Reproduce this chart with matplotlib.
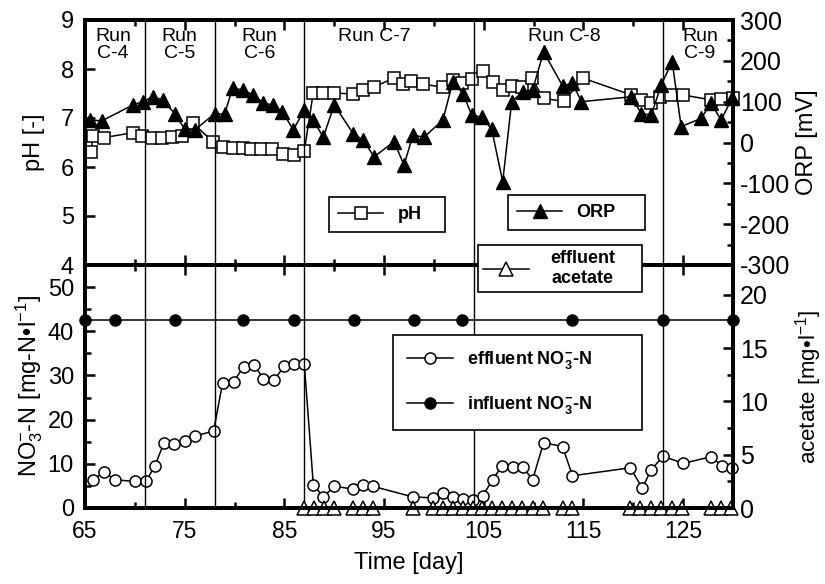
import matplotlib

matplotlib.use('Agg')

from matplotlib import pyplot as plt

plt.rcParams['font.family'] = ['Liberation Sans', 'DejaVu Sans']
plt.rcParams['mathtext.fontset'] = 'custom'
plt.rcParams['mathtext.rm'] = 'Liberation Sans'
plt.rcParams['mathtext.it'] = 'Liberation Sans:italic'
plt.rcParams['mathtext.bf'] = 'Liberation Sans:bold'
plt.rcParams['axes.unicode_minus'] = False

# pH (left axis, top panel)
ph_day = [65.6, 65.8, 66.9, 69.8, 70.7, 71.7, 72.7, 73.7, 74.7, 75.8,
          77.8, 78.8, 79.8, 80.8, 81.7, 82.7, 83.8, 84.9, 86.0, 87.0,
          87.9, 88.9, 90.0, 91.9, 92.9, 94.0, 96.0, 96.9, 97.7, 98.9,
          100.9, 101.9, 102.8, 103.8, 104.9, 105.9, 106.9, 107.8, 108.8, 109.8,
          111.0, 113.0, 115.0, 119.8, 120.8, 121.8, 122.7, 123.8, 125.0, 127.8,
          128.8, 130.0]
ph = [6.31, 6.63, 6.60, 6.70, 6.63, 6.59, 6.59, 6.62, 6.63, 6.90,
      6.52, 6.41, 6.38, 6.38, 6.36, 6.36, 6.36, 6.27, 6.24, 6.33,
      7.52, 7.51, 7.51, 7.49, 7.57, 7.64, 7.81, 7.69, 7.76, 7.69,
      7.63, 7.78, 7.72, 7.79, 7.95, 7.74, 7.58, 7.66, 7.64, 7.82,
      7.40, 7.34, 7.81, 7.47, 7.37, 7.30, 7.43, 7.47, 7.47, 7.37,
      7.38, 7.40]

# ORP (right axis, top panel)
orp_day = [65.5, 66.7, 69.8, 70.8, 71.8, 72.8, 74.0, 75.0, 76.0, 78.0,
           79.0, 79.8, 80.8, 81.9, 82.9, 83.9, 84.8, 85.9, 87.0, 87.9,
           88.9, 90.0, 91.9, 92.9, 94.0, 96.0, 97.0, 97.9, 99.0, 100.9,
           101.9, 102.9, 103.8, 104.8, 105.8, 106.9, 107.8, 108.9, 109.9, 111.0,
           112.9, 113.9, 114.8, 119.8, 120.8, 121.8, 122.8, 123.9, 124.8, 126.8,
           127.8, 128.8, 129.9]
orp = [55, 53, 92, 100, 112, 104, 71, 33, 30, 71,
       69, 133, 129, 116, 96, 92, 75, 31, 80, 55,
       13, 92, 22, 6, -35, 2, -55, 18, 13, 55,
       149, 120, 67, 62, 32, -96, 100, 124, 129, 222,
       139, 145, 100, 112, 71, 67, 141, 198, 39, 59,
       96, 55, 108]

# effluent NO3-N (left axis, bottom panel)
eff_day = [65.8, 66.9, 68.0, 70.0, 71.1, 72.0, 72.9, 73.9, 75.0, 76.0,
           77.9, 78.8, 79.9, 80.9, 82.0, 82.9, 84.0, 85.0, 86.0, 87.0,
           87.9, 88.9, 90.0, 91.9, 92.9, 93.9, 97.9, 99.9, 100.9, 101.9,
           102.9, 103.9, 104.9, 105.9, 106.8, 107.9, 108.9, 109.9, 111.0, 112.9,
           113.9, 119.7, 120.9, 121.8, 123.0, 125.0, 127.8, 128.9, 129.9]
eff_no3 = [6.3, 8.2, 6.4, 6.0, 6.0, 9.5, 14.6, 14.4, 15.1, 16.3,
           17.4, 28.3, 28.5, 32.0, 32.3, 29.2, 29.0, 32.2, 32.6, 32.6,
           5.3, 2.5, 4.9, 4.3, 5.3, 4.9, 2.5, 2.3, 3.4, 2.6,
           2.0, 1.9, 2.8, 6.4, 9.5, 9.3, 9.3, 6.4, 14.8, 13.9,
           7.3, 9.1, 4.5, 8.7, 11.7, 10.1, 11.6, 9.6, 9.1]

# influent NO3-N
inf_day = [65, 68, 74, 80.8, 86, 92, 98, 102.8, 113.9, 123, 130]
inf_no3 = [42.5, 42.5, 42.5, 42.5, 42.5, 42.5, 42.5, 42.5, 42.5, 42.5, 42.5]

# effluent acetate (right axis, bottom panel)
ace_day = [87.0, 88.0, 89.0, 90.0, 91.9, 92.9, 93.9, 97.9, 99.9, 100.9,
           101.9, 102.9, 103.9, 104.8, 105.8, 106.8, 107.8, 108.8, 109.9, 110.9,
           112.9, 113.9, 119.7, 120.7, 121.8, 122.8, 123.9, 124.9, 127.8, 128.8,
           129.8]
acetate = [0, 0, 0, 0, 0, 0, 0, 0, 0, 0,
           0, 0, 0, 0, 0, 0, 0, 0, 0, 0,
           0, 0, 0, 0, 0, 0, 0, 0, 0, 0,
           0]

# run boundaries and labels
run_bounds = [71, 78, 87, 104, 123]
run_labels = ['Run\nC-4', 'Run\nC-5', 'Run\nC-6', 'Run C-7', 'Run C-8', 'Run\nC-9']
run_label_x = [67.8, 74.5, 82.5, 94.0, 113.1, 126.7]

x_major = [65, 75, 85, 95, 105, 115, 125]
x_minor = [70, 80, 90, 100, 110, 120, 130]

W, H = 825, 584
fig = plt.figure(figsize=(8.25, 5.84), dpi=100)
ax_top = fig.add_axes([85 / W, 1 - 265 / H, 648 / W, 245 / H])
ax_bot = fig.add_axes([85 / W, 1 - 508 / H, 648 / W, 243 / H])
ax_top_r = ax_top.twinx()
ax_bot_r = ax_bot.twinx()

lw = 1.1
l_ph, = ax_top.plot(ph_day, ph, '-s', color='k', mfc='white', mec='k', ms=8, lw=lw, mew=1.1, clip_on=False)
l_orp, = ax_top_r.plot(orp_day, orp, '-^', color='k', ms=9.5, lw=lw, clip_on=False)
l_eff, = ax_bot.plot(eff_day, eff_no3, '-o', color='k', mfc='white', mec='k', ms=8, lw=lw, mew=1.1, clip_on=False)
l_inf, = ax_bot.plot(inf_day, inf_no3, '-o', color='k', ms=8, lw=lw, clip_on=False)
l_ace, = ax_bot_r.plot(ace_day, acetate, '-^', color='k', mfc='white', mec='k', ms=9.5, lw=lw, mew=1.1, clip_on=False)

for xb in run_bounds:
    ax_top.axvline(xb, color='k', lw=1)
    ax_bot.axvline(xb, color='k', lw=1)

for lab, xl in zip(run_labels, run_label_x):
    ax_top.text(xl, 8.84, lab, ha='center', va='top', fontsize=14, linespacing=1.0)

# axes limits / ticks
for ax in (ax_top, ax_bot, ax_top_r, ax_bot_r):
    ax.set_xlim(65, 130)
    ax.set_xticks(x_major)
    ax.set_xticks(x_minor, minor=True)
    ax.tick_params(which='both', direction='in', top=True, bottom=True, width=1.8)
    ax.tick_params(which='major', length=7)
    ax.tick_params(which='minor', length=4)
    for sp in ax.spines.values():
        sp.set_linewidth(2.8)

ax_top.tick_params(axis='x', labelbottom=False)
ax_bot.tick_params(axis='x', labelsize=16.5, pad=9)
ax_bot_r.tick_params(axis='x', labelbottom=False)
ax_top_r.tick_params(axis='x', labelbottom=False)

ax_top.set_ylim(4, 9)
ax_top.set_yticks([4, 5, 6, 7, 8, 9])
ax_bot.set_ylim(0, 55)
ax_bot.set_yticks([0, 10, 20, 30, 40, 50])
ax_bot.set_yticks([5, 15, 25, 35, 45], minor=True)
for ax in (ax_top, ax_bot):
    ax.tick_params(axis='y', labelsize=17, pad=8)

ax_top_r.set_ylim(-300, 300)
ax_top_r.set_yticks([-300, -200, -100, 0, 100, 200, 300])
ax_top_r.set_yticks([-250, -150, -50, 50, 150, 250], minor=True)
ax_bot_r.set_ylim(0, 22.8)
ax_bot_r.set_yticks([0, 5, 10, 15, 20])
ax_bot_r.set_yticks([2.5, 7.5, 12.5, 17.5], minor=True)
for ax in (ax_top_r, ax_bot_r):
    ax.tick_params(axis='y', labelsize=18, pad=5)

ax_top.set_ylabel('pH [-]', fontsize=17)
ax_top.yaxis.set_label_coords(-0.062, 0.5)
ax_bot.set_ylabel(r'NO$_3^{-}$-N [mg-N•l$^{-1}$]', fontsize=17)
ax_bot.yaxis.set_label_coords(-0.062, 0.5)
ax_top_r.set_ylabel('ORP [mV]', fontsize=17)
ax_top_r.yaxis.set_label_coords(1.097, 0.5)
ax_bot_r.set_ylabel(r'acetate [mg•l$^{-1}$]', fontsize=16)
ax_bot_r.yaxis.set_label_coords(1.092, 0.5)
ax_bot.set_xlabel('Time [day]', fontsize=17)
ax_bot.xaxis.set_label_coords(0.5, -0.18)


# legend boxes in pixel coords (left, top, right)
def add_legend(handles, labels, left, top, right, textpad=0.8, **kw):
    leg = fig.legend(handles, labels, loc='upper left',
                     bbox_to_anchor=(left / W, 1 - top / H, (right - left) / W, 0),
                     mode='expand', borderaxespad=0, fancybox=False, framealpha=1,
                     edgecolor='k', prop={'weight': 'bold', 'size': 13},
                     handlelength=2.5, handletextpad=textpad, **kw)
    leg.get_frame().set_linewidth(1.2)
    return leg


add_legend([l_ph], ['pH'], 329, 197, 445, borderpad=0.5)
add_legend([l_orp], ['ORP'], 508, 195, 645, borderpad=0.5)
leg_ace = add_legend([l_ace], ['effluent\nacetate'], 478, 245, 642, textpad=1.2, borderpad=0.3)
leg_ace.get_texts()[0].set_multialignment('center')
add_legend([l_eff, l_inf],
           [r'effluent NO$_\mathbf{3}^\mathbf{-}$-N', r'influent NO$_\mathbf{3}^\mathbf{-}$-N'],
           393, 335, 642, borderpad=0.8, labelspacing=1.25)

plt.savefig('out.png', dpi=100, facecolor='white')
plt.close()
